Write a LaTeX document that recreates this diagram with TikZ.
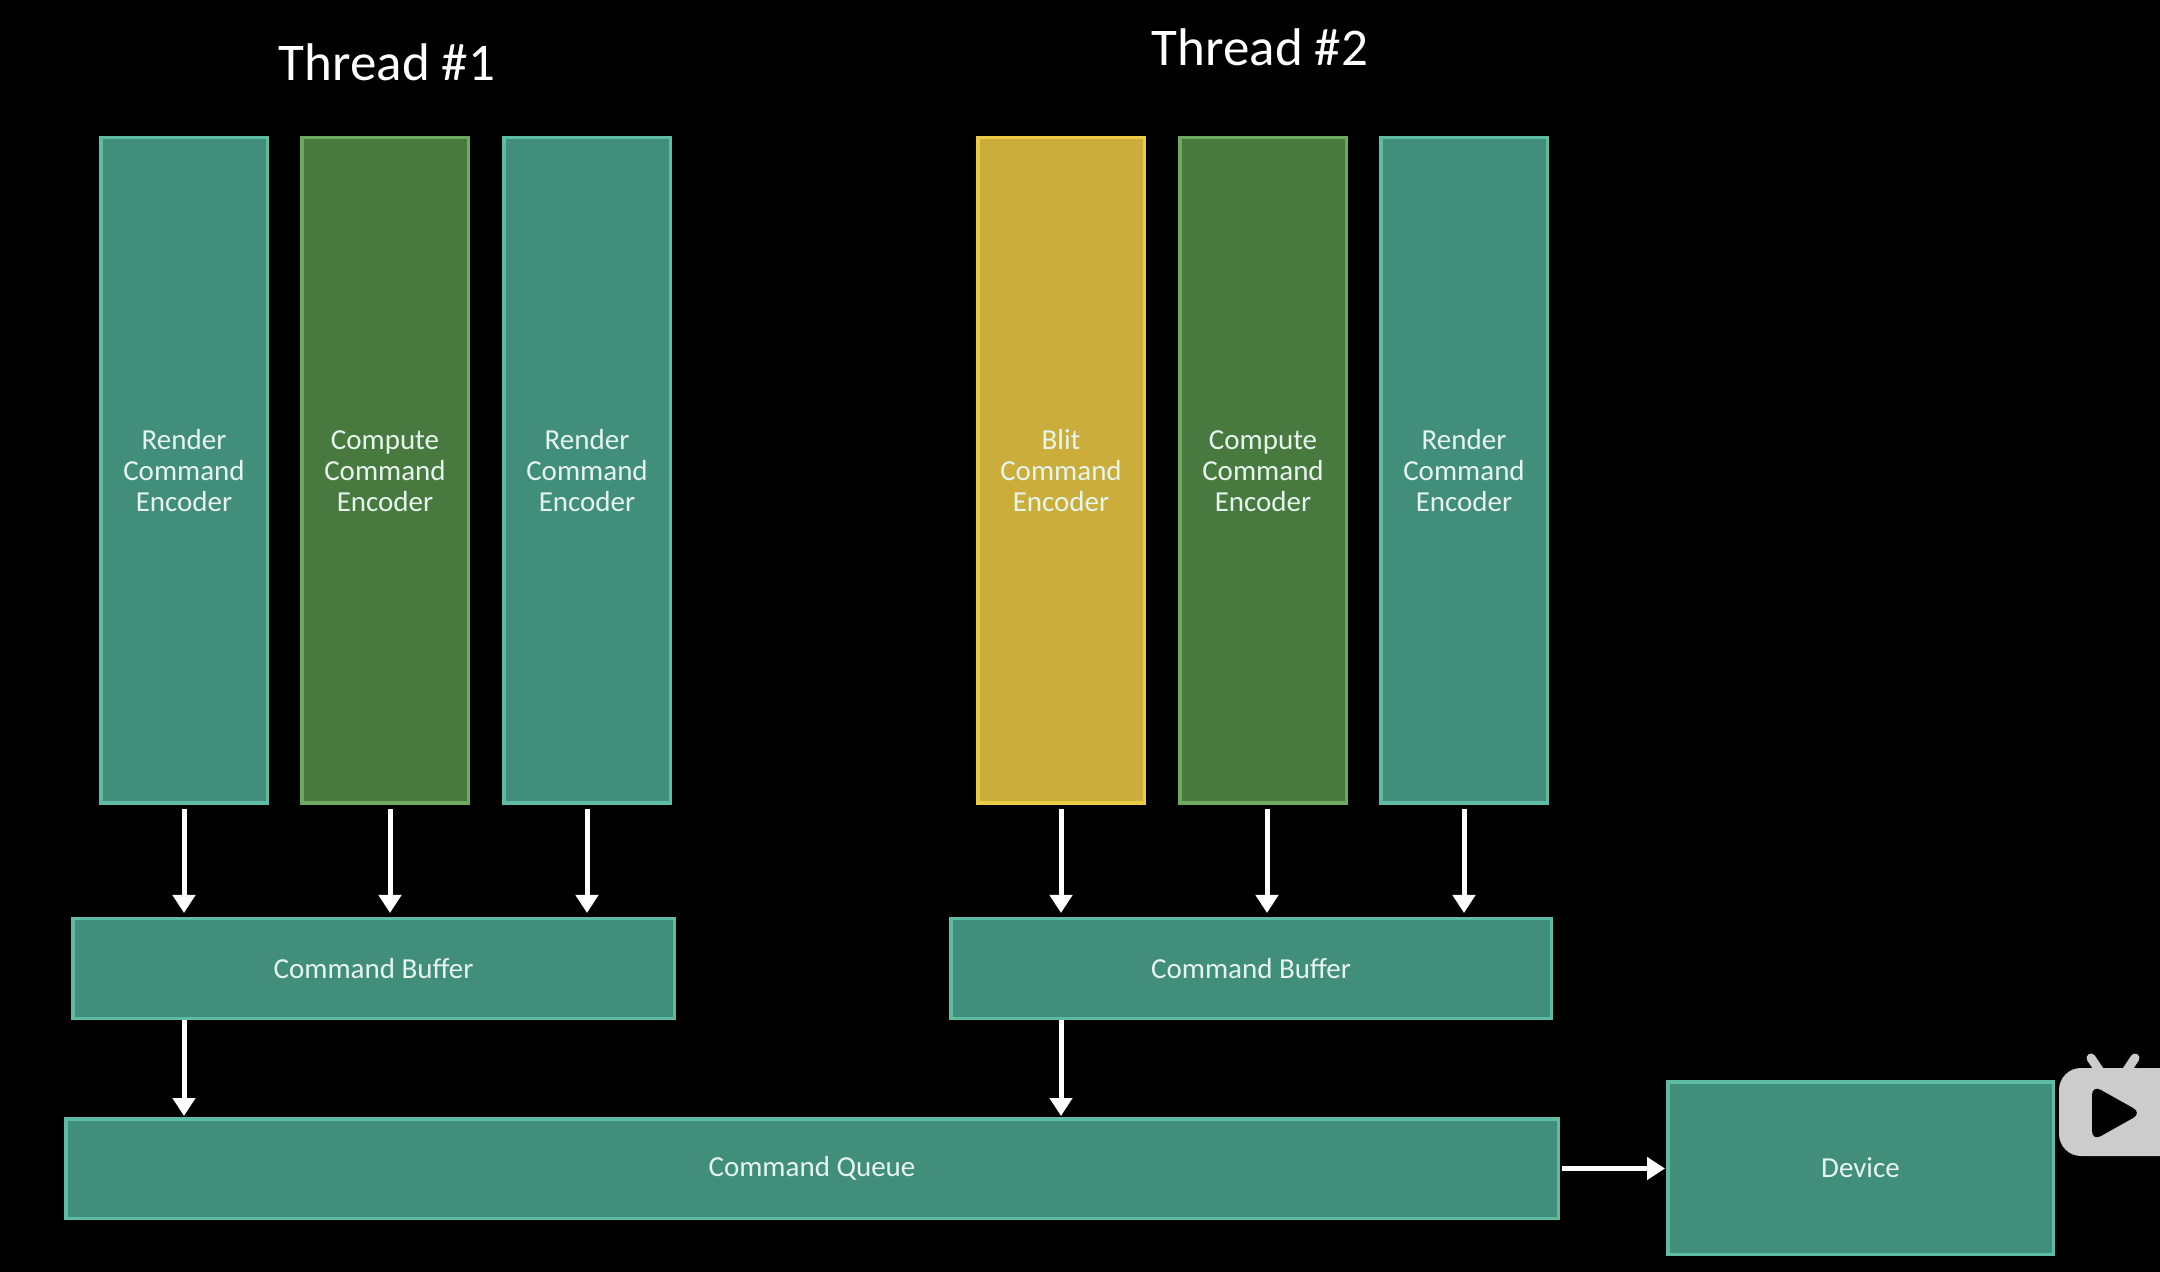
\documentclass[tikz,border=0pt]{standalone}
\usepackage{fontspec}
\setmainfont{Carlito}
\usetikzlibrary{arrows.meta}
\definecolor{tealfill}{HTML}{418E7B}
\definecolor{tealline}{HTML}{5DBCA3}
\definecolor{greenfill}{HTML}{487A40}
\definecolor{greenline}{HTML}{6FA85F}
\definecolor{goldfill}{HTML}{CBAD3B}
\definecolor{goldline}{HTML}{EBCB45}
\definecolor{labeltext}{HTML}{E6F5EE}
\definecolor{logogray}{HTML}{CCCCCC}
\tikzset{
  unit/.style={draw, line width=1.75pt, align=center, text=labeltext, font=\fontsize{14.5}{15.5}\selectfont, inner sep=0pt},
  encoder/.style={unit, minimum width=83.25pt, minimum height=332.75pt},
  render/.style={encoder, fill=tealfill, draw=tealline},
  compute/.style={encoder, fill=greenfill, draw=greenline},
  blit/.style={encoder, fill=goldfill, draw=goldline},
  wide/.style={unit, fill=tealfill, draw=tealline, minimum height=49.75pt},
  thread/.style={text=white, font=\fontsize{26.5}{30}\selectfont, inner sep=0pt},
  flow/.style={->, white, line width=2.5pt, >={Triangle[length=9pt,width=11pt]}},
}
\begin{document}
\begin{tikzpicture}[x=0.5pt, y=-0.5pt]
    \useasboundingbox (0, 0) rectangle (2160, 1272);
    \clip (0, 0) rectangle (2160, 1272);
    \fill[black] (0, 0) rectangle (2160, 1272);

    % Titles
    \node[thread] (t1) at (387, 62) {Thread \#1};
    \node[thread] (t2) at (1260, 47) {Thread \#2};

    % Encoders of both threads
    \foreach \n/\x/\kind/\first in {a1/184/render/Render, a2/385/compute/Compute, a3/587/render/Render,
        b1/1061/blit/Blit, b2/1263/compute/Compute, b3/1464/render/Render} {
        \node[\kind] (\n) at (\x, 470.5) {\rule{0pt}{14.4pt}\first\\\strut Command\\\strut Encoder};
      }

    % Buffers, queue and device
    \node[wide, minimum width=300.75pt] (cb1) at (373.5, 968.5) {Command Buffer};
    \node[wide, minimum width=300.25pt] (cb2) at (1251, 968.5) {Command Buffer};
    \node[wide, minimum width=746.25pt] (cq) at (812, 1168.5) {Command Queue};
    \node[wide, minimum width=192.75pt, minimum height=86.25pt] (dev) at (1860.5, 1168) {Device};

    % Encoders to buffers
    \draw[flow, shorten <=2pt, shorten >=2pt] (a1.south) -- (a1.south |- cb1.north);
    \draw[flow, shorten <=2pt, shorten >=2pt] ([xshift=2.5pt]a2.south) -- ([xshift=2.5pt]a2.south |- cb1.north);
    \draw[flow, shorten <=2pt, shorten >=2pt] (a3.south) -- (a3.south |- cb1.north);
    \draw[flow, shorten <=2pt, shorten >=2pt] (b1.south) -- (b1.south |- cb2.north);
    \draw[flow, shorten <=2pt, shorten >=2pt] ([xshift=2pt]b2.south) -- ([xshift=2pt]b2.south |- cb2.north);
    \draw[flow, shorten <=2pt, shorten >=2pt] (b3.south) -- (b3.south |- cb2.north);

    % Buffers to queue, queue to device
    \draw[flow, shorten >=.5pt] (a1.south |- cb1.south) -- (a1.south |- cq.north);
    \draw[flow, shorten >=.5pt] (b1.south |- cb2.south) -- (b1.south |- cq.north);
    \draw[flow, shorten <=1pt, shorten >=.5pt] (cq.east) -- (cq.east -| dev.west);

    % Logo in the corner
    \draw[logogray, line width=4.5pt, line cap=round] (2091, 1058) -- (2103, 1076);
    \draw[logogray, line width=4.5pt, line cap=round] (2135, 1058) -- (2123, 1076);
    \fill[logogray, rounded corners=11pt] (2059, 1068) rectangle (2190, 1156);
    \fill[black, rounded corners=5pt] (2092, 1085) -- (2142, 1113) -- (2092, 1141) -- cycle;
  \end{tikzpicture}
\end{document}
